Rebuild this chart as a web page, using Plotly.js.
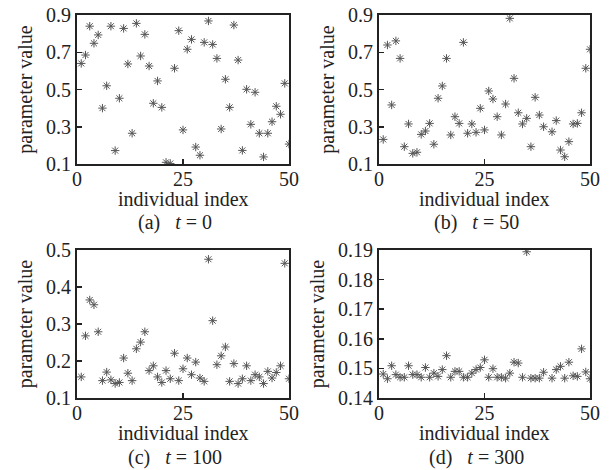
<!DOCTYPE html>
<html><head><meta charset="utf-8">
<script src="https://cdn.plot.ly/plotly-3.0.1.min.js"></script>
<style>html,body{margin:0;padding:0;background:#fff}#chart{width:611px;height:470px}</style>
</head><body><div id="chart"></div>
<script>
// (a) t = 0
const xA = [1,2,3,4,5,6,7,8,9,10,11,12,13,14,15,16,17,18,19,20,21,22,23,24,25,26,27,28,29,30,31,32,33,34,35,36,37,38,39,40,41,42,43,44,45,46,47,48,49,50];
const yA = [0.64,0.685,0.84,0.748,0.793,0.40,0.52,0.84,0.172,0.453,0.828,0.637,0.265,0.855,0.68,0.796,0.626,0.426,0.546,0.404,0.109,0.103,0.614,0.816,0.283,0.716,0.769,0.191,0.147,0.753,0.868,0.742,0.667,0.288,0.555,0.404,0.846,0.658,0.173,0.501,0.313,0.485,0.265,0.138,0.265,0.327,0.41,0.367,0.533,0.207];
// (b) t = 50
const xB = [1,2,3,4,5,6,7,8,9,10,11,12,13,14,15,16,17,18,19,20,21,22,23,24,25,26,27,28,29,30,31,32,33,34,35,36,37,38,39,41,42,43,44,45,46,47,48,49,50];
const yB = [0.232,0.739,0.417,0.761,0.667,0.193,0.315,0.157,0.163,0.259,0.277,0.318,0.206,0.453,0.519,0.667,0.256,0.354,0.318,0.753,0.265,0.315,0.27,0.399,0.283,0.492,0.449,0.354,0.256,0.422,0.882,0.56,0.375,0.315,0.345,0.193,0.458,0.363,0.30,0.273,0.333,0.175,0.139,0.22,0.315,0.318,0.375,0.614,0.716];
// (c) t = 100
const xC = [1,2,3,4,5,6,7,8,9,10,11,12,13,14,15,16,17,18,19,20,21,22,23,24,25,26,27,28,29,30,31,32,33,34,35,36,37,38,39,40,41,42,43,44,45,46,47,48,49,50];
const yC = [0.157,0.268,0.365,0.352,0.279,0.147,0.170,0.149,0.139,0.142,0.208,0.167,0.147,0.233,0.251,0.279,0.174,0.187,0.157,0.142,0.174,0.152,0.221,0.147,0.179,0.208,0.163,0.197,0.154,0.145,0.475,0.309,0.19,0.214,0.238,0.145,0.193,0.139,0.152,0.187,0.147,0.163,0.157,0.139,0.172,0.154,0.169,0.187,0.464,0.152];
// (d) t = 300
const xD = [1,2,3,4,5,6,7,8,9,10,11,12,13,14,15,16,17,18,19,20,21,22,23,24,25,26,27,28,29,30,31,32,33,34,35,36,37,38,39,41,42,43,44,45,46,47,48,49,50];
const yD = [0.1481,0.1465,0.1509,0.1479,0.147,0.147,0.1509,0.1479,0.1479,0.147,0.1503,0.147,0.1484,0.1473,0.1496,0.1543,0.147,0.149,0.149,0.147,0.147,0.1484,0.1496,0.1503,0.1529,0.147,0.1499,0.147,0.147,0.1467,0.1484,0.1521,0.1518,0.147,0.1894,0.1467,0.1467,0.1467,0.1487,0.1467,0.1496,0.1507,0.1467,0.1521,0.1475,0.1473,0.1566,0.1488,0.1465];

const xTicks = [0,25,50];
const yTicksAB = [0.1,0.3,0.5,0.7,0.9];
const yTicksC = [0.1,0.2,0.3,0.4,0.5];
const yTicksD = [0.14,0.15,0.16,0.17,0.18,0.19];
const xTitle = 'individual index';
const yTitle = 'parameter value';
const captions = ['(a)&nbsp;&nbsp;&nbsp;<i>t</i> = 0','(b)&nbsp;&nbsp;&nbsp;<i>t</i> = 50','(c)&nbsp;&nbsp;&nbsp;<i>t</i> = 100','(d)&nbsp;&nbsp;&nbsp;<i>t</i> = 300'];

const W = 611, H = 470;
const FONT = '"Liberation Serif", "Times New Roman", Times, serif';
const TXT = {family:FONT,size:20,color:'#222'};
const mk = {symbol:'asterisk-open', size:7, color:'#555', line:{color:'#555', width:1}};
function tr(x,y,i){ const s = i===0?'':String(i+1); return {x:x,y:y,type:'scatter',mode:'markers',marker:mk,xaxis:'x'+s,yaxis:'y'+s,hoverinfo:'skip'}; }
const data = [tr(xA,yA,0),tr(xB,yB,1),tr(xC,yC,2),tr(xD,yD,3)];

// pixel boxes [left,right,top,bottom]
const boxes = [[77,289,15,164],[379,590,15,164],[77,289,250,398],[379,590,250,398]];
const ranges = [[0.1,0.9],[0.1,0.9],[0.1,0.5],[0.14,0.19]];
const yt = [yTicksAB,yTicksAB,yTicksC,yTicksD];
const layout = {width:W,height:H,margin:{l:0,r:0,t:0,b:0},showlegend:false,paper_bgcolor:'#fff',plot_bgcolor:'#fff',
  font:TXT,annotations:[]};
boxes.forEach((b,i)=>{
  const s = i===0?'':String(i+1);
  layout['xaxis'+s] = {domain:[b[0]/W,b[1]/W],range:[0,50],tickvals:xTicks,ticks:'inside',ticklen:5,tickwidth:1.5,tickcolor:'#222',
    showline:true,mirror:true,linecolor:'#222',linewidth:2,showgrid:false,zeroline:false,anchor:'y'+s,
    tickfont:TXT, ticklabelstandoff:-4};
  layout['yaxis'+s] = {domain:[1-b[3]/H,1-b[2]/H],range:ranges[i],tickvals:yt[i],ticks:'inside',ticklen:5,tickwidth:1.5,tickcolor:'#222',
    showline:true,mirror:true,linecolor:'#222',linewidth:2,showgrid:false,zeroline:false,anchor:'x'+s,
    tickfont:TXT, title:{text:yTitle,font:TXT,standoff:8}};
  const cx = (b[0]+b[1])/2;
  layout.annotations.push({text:xTitle,xref:'paper',yref:'paper',x:cx/W,y:1-(b[3]+35)/H,
    xanchor:'center',yanchor:'middle',showarrow:false,font:TXT});
  layout.annotations.push({text:captions[i],xref:'paper',yref:'paper',x:(cx-8)/W,y:1-(b[3]+59)/H,
    xanchor:'center',yanchor:'middle',showarrow:false,font:TXT});
});
Plotly.newPlot('chart',data,layout,{staticPlot:true});
</script></body></html>
